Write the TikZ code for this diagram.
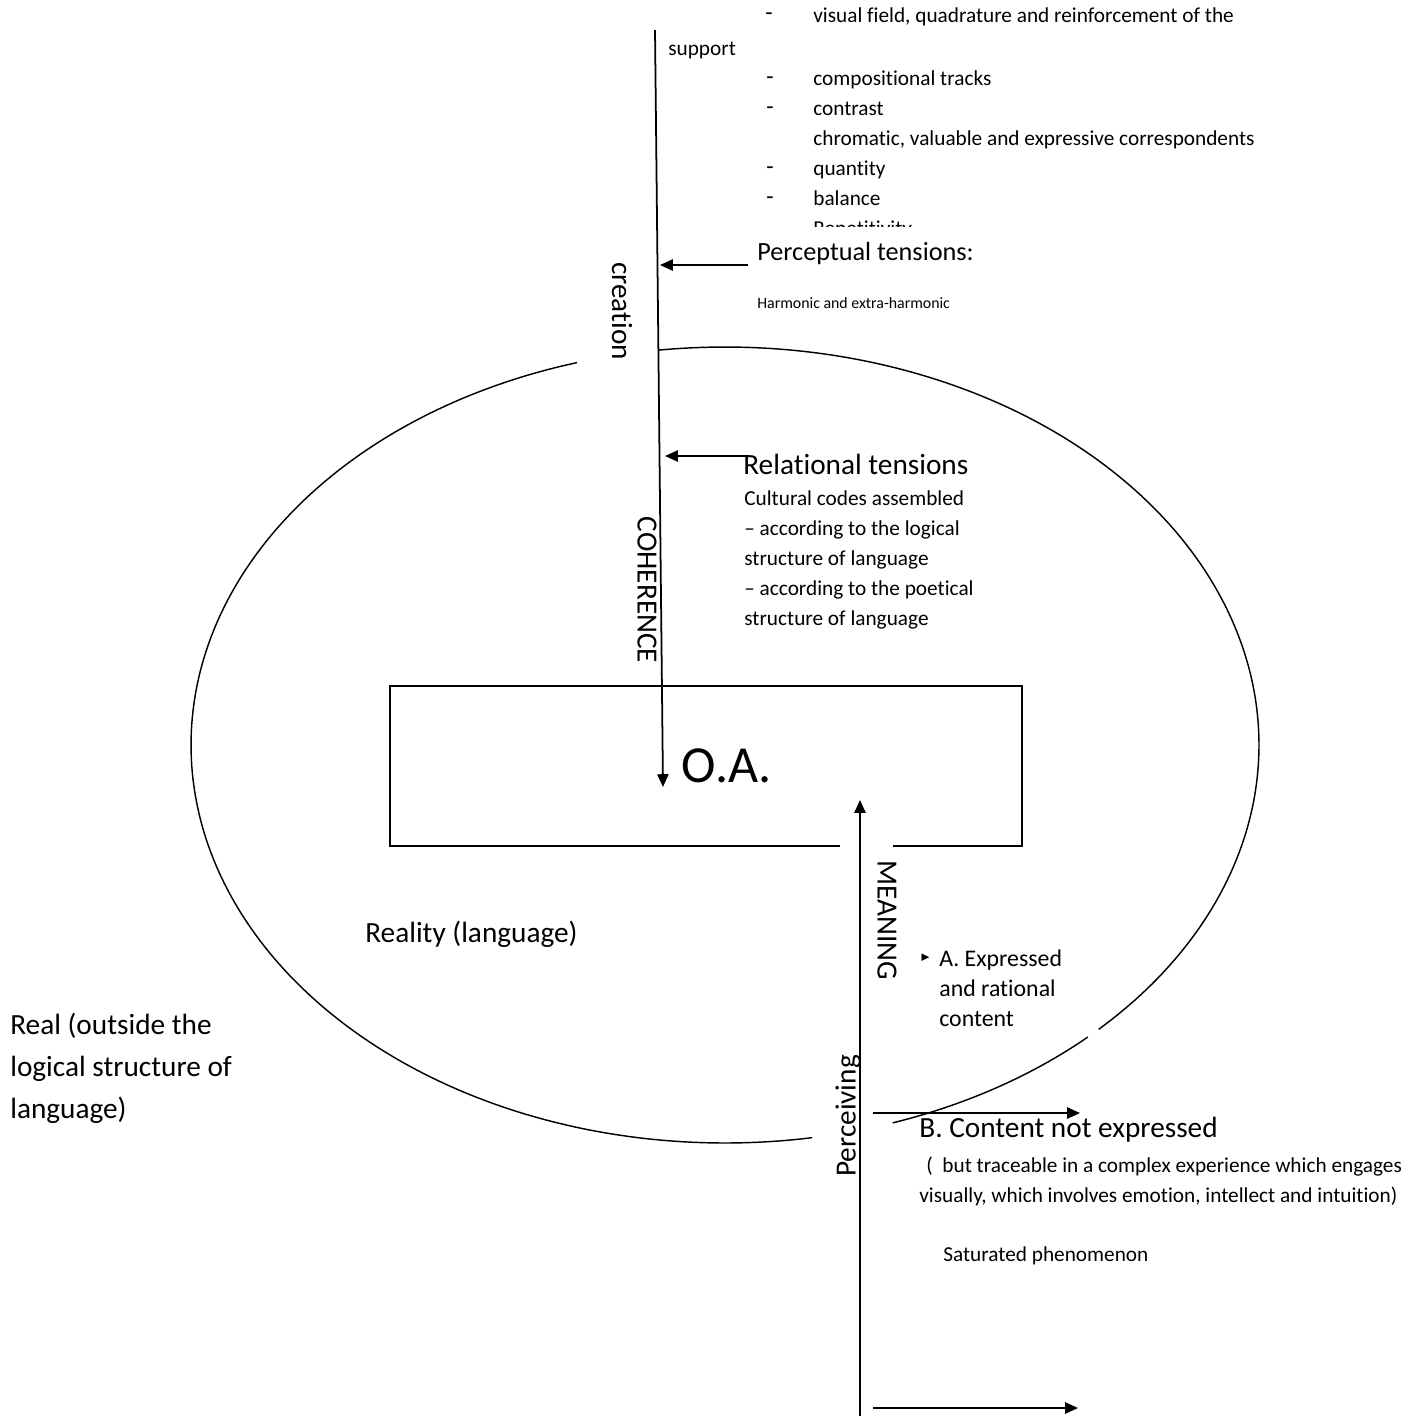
\documentclass[tikz,border=0pt]{standalone}
\usepackage{fontspec}
\setmainfont{Carlito}[Ligatures=NoCommon]
\usepackage{amssymb}
\usetikzlibrary{positioning, arrows.meta}

\newcommand{\fsz}[2]{\fontsize{#1}{#2}\selectfont}

\begin{document}
\begin{tikzpicture}[
  x=0.625pt, y=-0.625pt,
  txt/.style={inner sep=0, anchor=west, align=left, font=\fsz{13.3pt}{18.75pt}},
  head/.style={txt, font=\fsz{18.3pt}{26.25pt}},
  dashmark/.style={txt, font=\fsz{15pt}{18pt}},
  vlab/.style={inner sep=0, font=\fsz{18.3pt}{22pt}},
  arr/.style={-{Triangle[length=8pt, width=7pt]}, line width=1.1pt},
  ell/.style={line width=0.9pt}
]
\useasboundingbox (0,0) rectangle (1424,1418);

% top list
\node (dash0) [dashmark] at (765,17) {-};
\node (field) [txt] at (813,17) {visual field, quadrature and reinforcement of the};
\node (support) [txt] at (668,50) {support};
\node (dash1) [dashmark] at (766,81) {-};
\node (dash2) [dashmark] at (766,111) {-};
\node (dash3) [dashmark] at (766,171) {-};
\node (dash4) [dashmark] at (766,201) {-};
\begin{scope}
  \clip (700,0) rectangle (1424,226);
  \node (items) [txt] at (813,155) {compositional tracks\\contrast\\chromatic, valuable and expressive correspondents\\quantity\\balance\\Repetitivity};
\end{scope}

% tensions
\node (percept) [txt, font=\fsz{16.4pt}{20pt}] at (757,253) {Perceptual tensions:};
\node (harmonic) [txt, font=\fsz{9.9pt}{12pt}] at (757,303) {Harmonic and extra-harmonic};
\node (relat) [head] at (743,464) {Relational tensions};
\node (codes) [txt] at (744,560) {Cultural codes assembled\\– according to the logical\\structure of language\\– according to the poetical\\structure of language};

% reality ellipse, with its gaps
\draw[ell] plot[domain=262.8:405.6, samples=150] ({725+534*cos(\x)}, {745+398*sin(\x)});
\draw[ell] plot[domain=47.2:71.7, samples=40] ({725+534*cos(\x)}, {745+398*sin(\x)});
\draw[ell] plot[domain=80.6:253.9, samples=150] ({725+534*cos(\x)}, {745+398*sin(\x)});

% O.A. box
\draw[line width=1.1pt] (840,846) -- (390,846) -- (390,686) -- (1022,686) -- (1022,846) -- (893,846);
\node (oa) [txt, font=\fsz{32.5pt}{36pt}] at (681,766) {O.A.};

\node (reality) [head] at (365,934) {Reality (language)};
\node (real) [head] at (10,1068) {Real (outside the\\logical structure of\\language)};

\node (bul) [txt, font=\fsz{7pt}{8pt}] at (920,958) {$\blacktriangleright$};
\node (expr) [txt, font=\fsz{14.9pt}{18.75pt}] at (939,988) {A. Expressed\\and rational\\content};
\node (notexpr) [head] at (919,1130) {B. Content not expressed};
\node (trace) [txt] at (919,1181) {\hspace{4.4pt}(\ \ but traceable in a complex experience which engages\\visually, which involves emotion, intellect and intuition)};
\node (satur) [txt] at (943,1256) {Saturated phenomenon};

% rotated labels
\node (creation) [vlab, rotate=-90] at (622,311) {creation};
\node (coher) [vlab, rotate=-90] at (647,590) {COHERENCE};
\node (meaning) [vlab, rotate=-90] at (887,920) {MEANING};
\node (perceiv) [vlab, rotate=90] at (848,1116) {Perceiving};

% arrows
\coordinate (ctop) at (655,30);
\coordinate (ctip) at (663,787);
\coordinate (pa) at (748,265);
\coordinate (pb) at (660,265);
\coordinate (ra) at (750,456);
\coordinate (rb) at (665,456);
\coordinate (mbot) at (860,1416);
\coordinate (mtip) at (860,800);
\coordinate (ba) at (873,1113);
\coordinate (bb) at (1080,1113);
\coordinate (ca) at (873,1408);
\coordinate (cb) at (1078,1408);
\draw[arr] (ctop) -- (ctip);
\draw[arr] (pa) -- (pb);
\draw[arr] (ra) -- (rb);
\draw[arr] (mbot) -- (mtip);
\draw[arr] (ba) -- (bb);
\draw[arr] (ca) -- (cb);
\end{tikzpicture}
\end{document}
